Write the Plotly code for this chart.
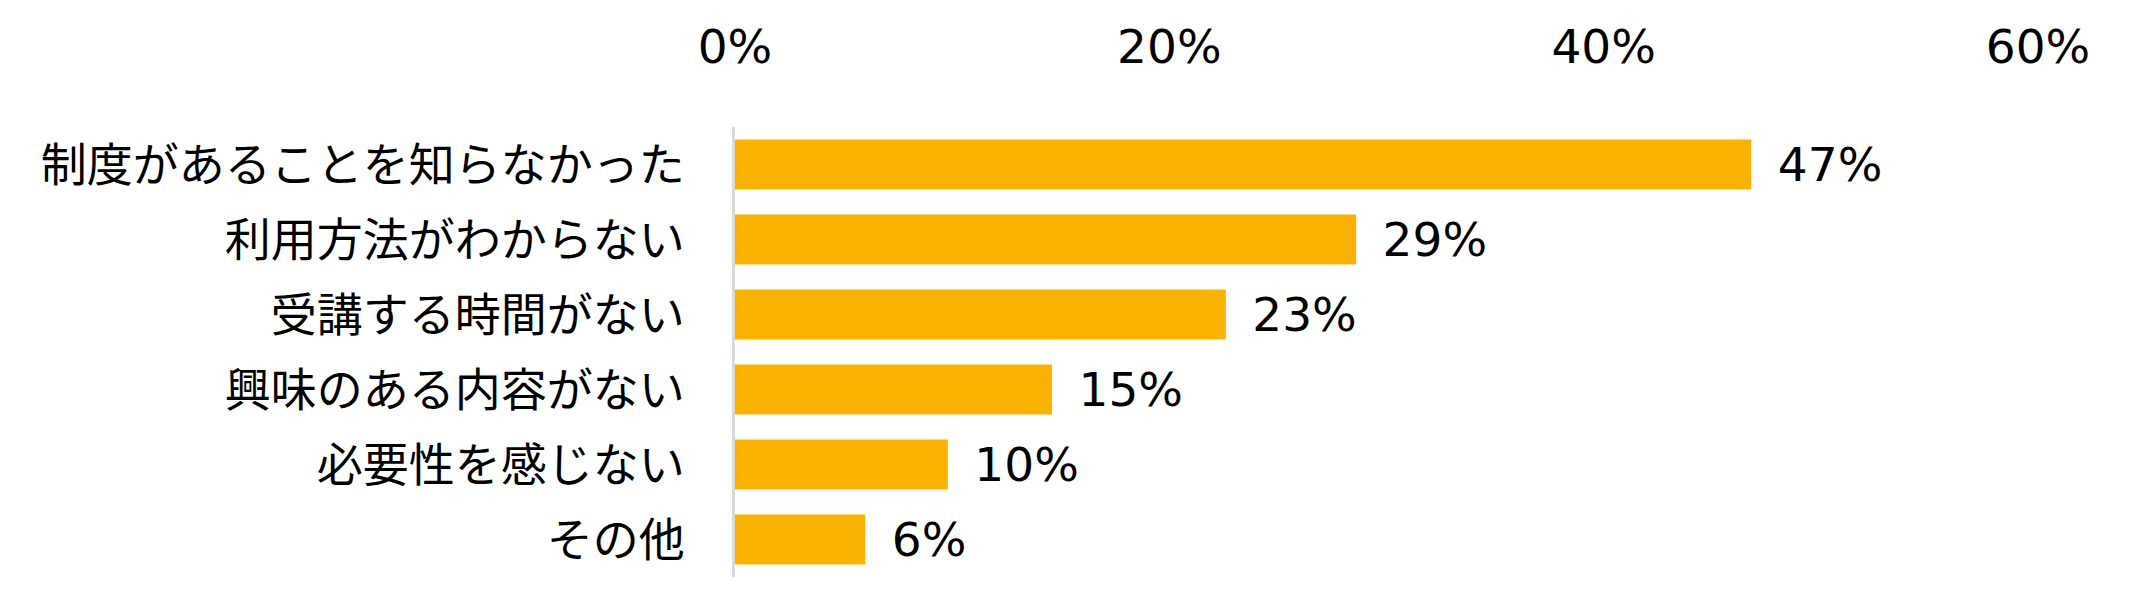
import plotly.graph_objects as go

# 研修制度を利用しない理由 (%)
categories = [
    "制度があることを知らなかった",
    "利用方法がわからない",
    "受講する時間がない",
    "興味のある内容がない",
    "必要性を感じない",
    "その他",
]
shares = [46.8, 28.6, 22.6, 14.6, 9.8, 6.0]
tick_values = [0, 20, 40, 60]
tick_labels = ["0%", "20%", "40%", "60%"]

jp_font = "Noto Sans CJK JP, Noto Sans, sans-serif"
num_font = "DejaVu Sans, Noto Sans CJK JP, sans-serif"
bar_color = "#F9B200"

fig = go.Figure()

fig.add_trace(
    go.Bar(
        x=shares,
        y=categories,
        orientation="h",
        marker=dict(color=bar_color, line=dict(width=0)),
        texttemplate="\u2002%{x:.0f}%",
        textposition="outside",
        constraintext="none",
        cliponaxis=False,
        textfont=dict(size=47, color="#000000", family=num_font),
        hoverinfo="skip",
    )
)

# the page adds an 8px body margin, so the figure is a bit smaller than the window
fig.update_layout(
    width=2125,
    height=590,
    margin=dict(l=727, r=95, t=119, b=21),
    paper_bgcolor="white",
    plot_bgcolor="white",
    showlegend=False,
    bargap=0.333,
    font=dict(family=jp_font, size=46, color="#000000"),
)

fig.update_xaxes(
    side="top",
    range=[0, 60],
    tickvals=tick_values,
    ticktext=tick_labels,
    showgrid=False,
    zeroline=False,
    showline=False,
    ticks="",
    automargin=False,
    ticklabelstandoff=54,
    tickfont=dict(size=47, color="#000000", family=num_font),
)

fig.update_yaxes(
    categoryorder="array",
    categoryarray=categories[::-1],
    showgrid=False,
    zeroline=False,
    showline=True,
    linecolor="#D9D9D9",
    linewidth=3,
    ticks="",
    automargin=False,
    ticklabelstandoff=38,
    tickfont=dict(size=46, color="#000000", family=jp_font),
)

fig.write_html("out.html")
